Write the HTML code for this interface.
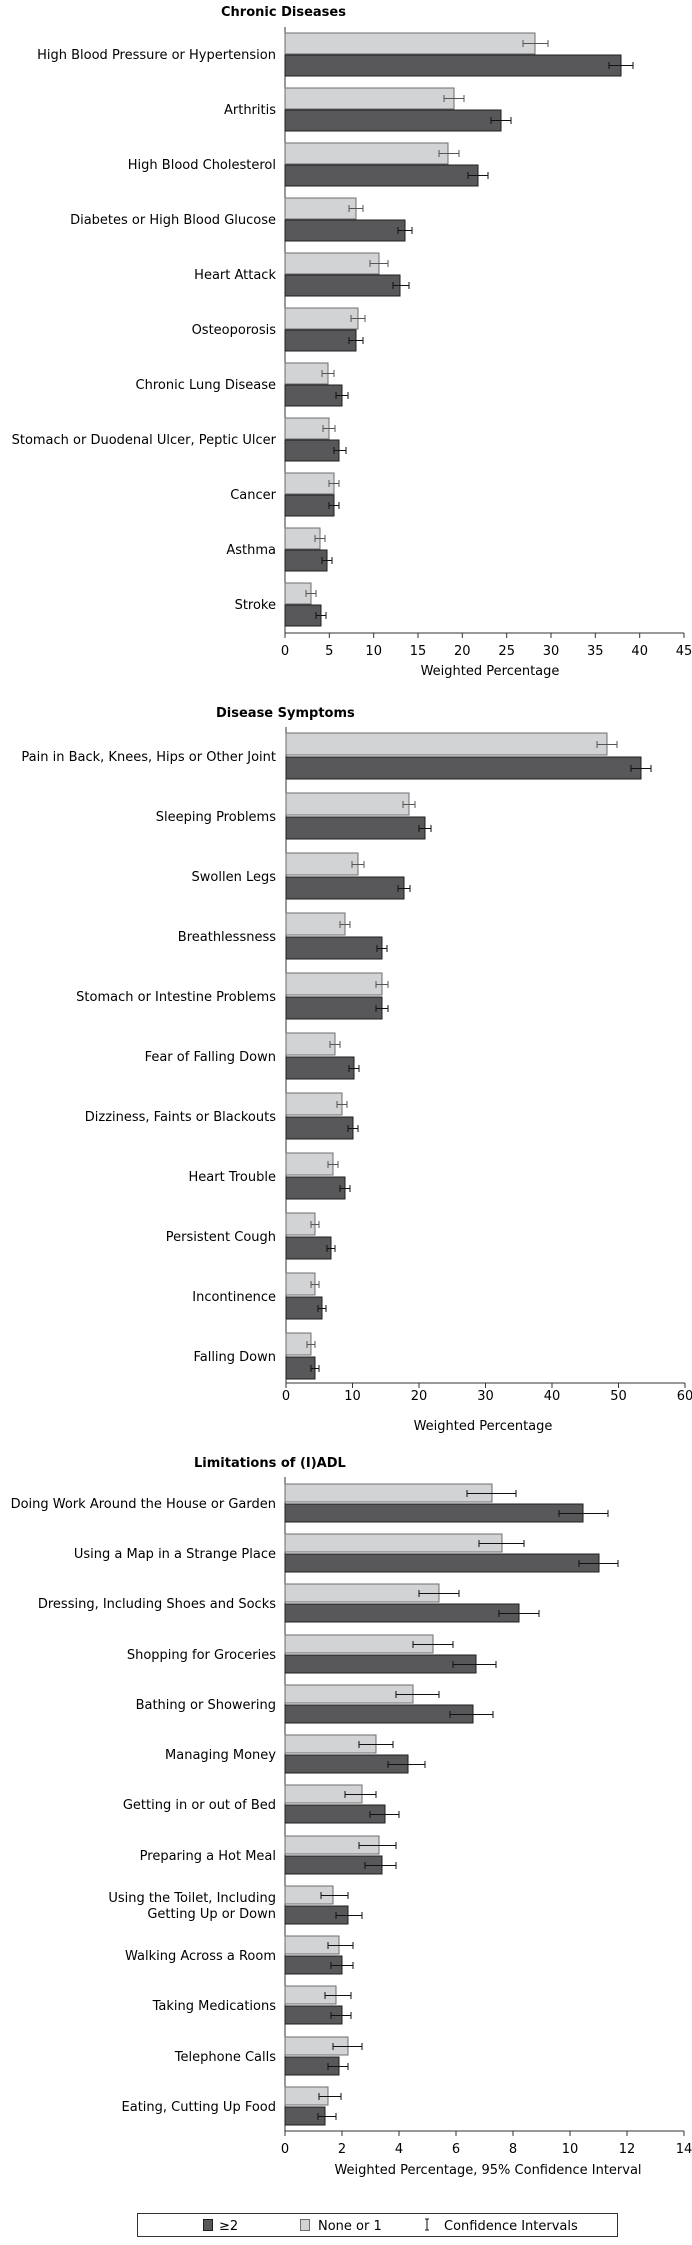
<!DOCTYPE html>
<html><head><meta charset="utf-8"><style>
body{margin:0;background:#fff}
svg{display:block;font-family:"DejaVu Sans","Liberation Sans",sans-serif;font-size:13px}
.l{fill:#d2d3d5;stroke:#6e6e70;stroke-width:1}
.d{fill:#58585a;stroke:#1e1e1e;stroke-width:1}
.lab{text-anchor:end}
.t{font-weight:bold}
.ax{stroke:#333;stroke-width:1;fill:none}
.ci{stroke:#555;stroke-width:1;fill:none}
.cd{stroke:#111;stroke-width:1;fill:none}
.tk{text-anchor:middle}
</style></head><body>
<svg width="692" height="2245" viewBox="0 0 692 2245">
<!-- Chart 1 -->
<text class="t" x="221" y="16">Chronic Diseases</text>
<path class="ax" d="M285 27V633H684M285 633v5M329.3 633v5M373.7 633v5M418 633v5M462.3 633v5M506.7 633v5M551 633v5M595.3 633v5M639.7 633v5M684 633v5"/>
<g class="tk"><text x="285" y="655">0</text><text x="329.3" y="655">5</text><text x="373.7" y="655">10</text><text x="418" y="655">15</text><text x="462.3" y="655">20</text><text x="506.7" y="655">25</text><text x="551" y="655">30</text><text x="595.3" y="655">35</text><text x="639.7" y="655">40</text><text x="684" y="655">45</text><text x="490" y="675">Weighted Percentage</text></g>
<g class="lab">
<text x="276" y="59">High Blood Pressure or Hypertension</text>
<text x="276" y="114">Arthritis</text>
<text x="276" y="169">High Blood Cholesterol</text>
<text x="276" y="224">Diabetes or High Blood Glucose</text>
<text x="276" y="279">Heart Attack</text>
<text x="276" y="334">Osteoporosis</text>
<text x="276" y="389">Chronic Lung Disease</text>
<text x="276" y="444">Stomach or Duodenal Ulcer, Peptic Ulcer</text>
<text x="276" y="499">Cancer</text>
<text x="276" y="554">Asthma</text>
<text x="276" y="609">Stroke</text>
</g>
<g>
<rect class="l" x="285" y="33" width="250" height="21"/><rect class="d" x="285" y="55" width="336" height="21"/>
<rect class="l" x="285" y="88" width="169" height="21"/><rect class="d" x="285" y="110" width="216" height="21"/>
<rect class="l" x="285" y="143" width="163" height="21"/><rect class="d" x="285" y="165" width="193" height="21"/>
<rect class="l" x="285" y="198" width="71" height="21"/><rect class="d" x="285" y="220" width="120" height="21"/>
<rect class="l" x="285" y="253" width="94" height="21"/><rect class="d" x="285" y="275" width="115" height="21"/>
<rect class="l" x="285" y="308" width="73" height="21"/><rect class="d" x="285" y="330" width="71" height="21"/>
<rect class="l" x="285" y="363" width="43" height="21"/><rect class="d" x="285" y="385" width="57" height="21"/>
<rect class="l" x="285" y="418" width="44" height="21"/><rect class="d" x="285" y="440" width="54" height="21"/>
<rect class="l" x="285" y="473" width="49" height="21"/><rect class="d" x="285" y="495" width="49" height="21"/>
<rect class="l" x="285" y="528" width="35" height="21"/><rect class="d" x="285" y="550" width="42" height="21"/>
<rect class="l" x="285" y="583" width="26" height="21"/><rect class="d" x="285" y="605" width="36" height="21"/>
</g>
<path class="ci" d="M523 43.5h25M523 40v7M548 40v7 M444 98.5h20M444 95v7M464 95v7 M439 153.5h20M439 150v7M459 150v7 M349 208.5h14M349 205v7M363 205v7 M370 263.5h18M370 260v7M388 260v7 M351 318.5h14M351 315v7M365 315v7 M322 373.5h12M322 370v7M334 370v7 M323 428.5h12M323 425v7M335 425v7 M329 483.5h10M329 480v7M339 480v7 M315 538.5h10M315 535v7M325 535v7 M306 593.5h10M306 590v7M316 590v7"/>
<path class="cd" d="M609 65.5h24M609 62v7M633 62v7 M491 120.5h20M491 117v7M511 117v7 M468 175.5h20M468 172v7M488 172v7 M398 230.5h14M398 227v7M412 227v7 M393 285.5h16M393 282v7M409 282v7 M349 340.5h14M349 337v7M363 337v7 M336 395.5h12M336 392v7M348 392v7 M334 450.5h12M334 447v7M346 447v7 M329 505.5h10M329 502v7M339 502v7 M322 560.5h10M322 557v7M332 557v7 M316 615.5h10M316 612v7M326 612v7"/>

<!-- Chart 2 -->
<text class="t" x="216" y="717">Disease Symptoms</text>
<path class="ax" d="M286 727V1383H685M286 1383v5M352.5 1383v5M419 1383v5M485.5 1383v5M552 1383v5M618.5 1383v5M685 1383v5"/>
<g class="tk"><text x="286" y="1400">0</text><text x="352.5" y="1400">10</text><text x="419" y="1400">20</text><text x="485.5" y="1400">30</text><text x="552" y="1400">40</text><text x="618.5" y="1400">50</text><text x="685" y="1400">60</text><text x="483" y="1430">Weighted Percentage</text></g>
<g class="lab">
<text x="276" y="761">Pain in Back, Knees, Hips or Other Joint</text>
<text x="276" y="821">Sleeping Problems</text>
<text x="276" y="881">Swollen Legs</text>
<text x="276" y="941">Breathlessness</text>
<text x="276" y="1001">Stomach or Intestine Problems</text>
<text x="276" y="1061">Fear of Falling Down</text>
<text x="276" y="1121">Dizziness, Faints or Blackouts</text>
<text x="276" y="1181">Heart Trouble</text>
<text x="276" y="1241">Persistent Cough</text>
<text x="276" y="1301">Incontinence</text>
<text x="276" y="1361">Falling Down</text>
</g>
<g>
<rect class="l" x="286" y="733" width="321" height="22"/><rect class="d" x="286" y="757" width="355" height="22"/>
<rect class="l" x="286" y="793" width="123" height="22"/><rect class="d" x="286" y="817" width="139" height="22"/>
<rect class="l" x="286" y="853" width="72" height="22"/><rect class="d" x="286" y="877" width="118" height="22"/>
<rect class="l" x="286" y="913" width="59" height="22"/><rect class="d" x="286" y="937" width="96" height="22"/>
<rect class="l" x="286" y="973" width="96" height="22"/><rect class="d" x="286" y="997" width="96" height="22"/>
<rect class="l" x="286" y="1033" width="49" height="22"/><rect class="d" x="286" y="1057" width="68" height="22"/>
<rect class="l" x="286" y="1093" width="56" height="22"/><rect class="d" x="286" y="1117" width="67" height="22"/>
<rect class="l" x="286" y="1153" width="47" height="22"/><rect class="d" x="286" y="1177" width="59" height="22"/>
<rect class="l" x="286" y="1213" width="29" height="22"/><rect class="d" x="286" y="1237" width="45" height="22"/>
<rect class="l" x="286" y="1273" width="29" height="22"/><rect class="d" x="286" y="1297" width="36" height="22"/>
<rect class="l" x="286" y="1333" width="25" height="22"/><rect class="d" x="286" y="1357" width="29" height="22"/>
</g>
<path class="ci" d="M597 744.5h20M597 741v7M617 741v7 M403 804.5h12M403 801v7M415 801v7 M352 864.5h12M352 861v7M364 861v7 M340 924.5h10M340 921v7M350 921v7 M376 984.5h12M376 981v7M388 981v7 M330 1044.5h10M330 1041v7M340 1041v7 M337 1104.5h10M337 1101v7M347 1101v7 M328 1164.5h10M328 1161v7M338 1161v7 M311 1224.5h8M311 1221v7M319 1221v7 M311 1284.5h8M311 1281v7M319 1281v7 M307 1344.5h8M307 1341v7M315 1341v7"/>
<path class="cd" d="M631 768.5h20M631 765v7M651 765v7 M419 828.5h12M419 825v7M431 825v7 M398 888.5h12M398 885v7M410 885v7 M377 948.5h10M377 945v7M387 945v7 M376 1008.5h12M376 1005v7M388 1005v7 M349 1068.5h10M349 1065v7M359 1065v7 M348 1128.5h10M348 1125v7M358 1125v7 M340 1188.5h10M340 1185v7M350 1185v7 M327 1248.5h8M327 1245v7M335 1245v7 M318 1308.5h8M318 1305v7M326 1305v7 M311 1368.5h8M311 1365v7M319 1365v7"/>

<!-- Chart 3 -->
<text class="t" x="194" y="1467">Limitations of (I)ADL</text>
<path class="ax" d="M285 1477V2131H684M285 2131v5M342 2131v5M399 2131v5M456 2131v5M513 2131v5M570 2131v5M627 2131v5M684 2131v5"/>
<g class="tk"><text x="285" y="2153">0</text><text x="342" y="2153">2</text><text x="399" y="2153">4</text><text x="456" y="2153">6</text><text x="513" y="2153">8</text><text x="570" y="2153">10</text><text x="627" y="2153">12</text><text x="684" y="2153">14</text><text x="488" y="2174">Weighted Percentage, 95% Confidence Interval</text></g>
<g class="lab">
<text x="276" y="1508">Doing Work Around the House or Garden</text>
<text x="276" y="1558">Using a Map in a Strange Place</text>
<text x="276" y="1608">Dressing, Including Shoes and Socks</text>
<text x="276" y="1659">Shopping for Groceries</text>
<text x="276" y="1709">Bathing or Showering</text>
<text x="276" y="1759">Managing Money</text>
<text x="276" y="1809">Getting in or out of Bed</text>
<text x="276" y="1860">Preparing a Hot Meal</text>
<text x="276" y="1902">Using the Toilet, Including</text>
<text x="276" y="1918">Getting Up or Down</text>
<text x="276" y="1960">Walking Across a Room</text>
<text x="276" y="2010">Taking Medications</text>
<text x="276" y="2061">Telephone Calls</text>
<text x="276" y="2111">Eating, Cutting Up Food</text>
</g>
<g>
<rect class="l" x="285" y="1484" width="207" height="18"/><rect class="d" x="285" y="1504" width="298" height="18"/>
<rect class="l" x="285" y="1534" width="217" height="18"/><rect class="d" x="285" y="1554" width="314" height="18"/>
<rect class="l" x="285" y="1584" width="154" height="18"/><rect class="d" x="285" y="1604" width="234" height="18"/>
<rect class="l" x="285" y="1635" width="148" height="18"/><rect class="d" x="285" y="1655" width="191" height="18"/>
<rect class="l" x="285" y="1685" width="128" height="18"/><rect class="d" x="285" y="1705" width="188" height="18"/>
<rect class="l" x="285" y="1735" width="91" height="18"/><rect class="d" x="285" y="1755" width="123" height="18"/>
<rect class="l" x="285" y="1785" width="77" height="18"/><rect class="d" x="285" y="1805" width="100" height="18"/>
<rect class="l" x="285" y="1836" width="94" height="18"/><rect class="d" x="285" y="1856" width="97" height="18"/>
<rect class="l" x="285" y="1886" width="48" height="18"/><rect class="d" x="285" y="1906" width="63" height="18"/>
<rect class="l" x="285" y="1936" width="54" height="18"/><rect class="d" x="285" y="1956" width="57" height="18"/>
<rect class="l" x="285" y="1986" width="51" height="18"/><rect class="d" x="285" y="2006" width="57" height="18"/>
<rect class="l" x="285" y="2037" width="63" height="18"/><rect class="d" x="285" y="2057" width="54" height="18"/>
<rect class="l" x="285" y="2087" width="43" height="18"/><rect class="d" x="285" y="2107" width="40" height="18"/>
</g>
<path class="cd" d="M467 1493.5h49M467 1490v7M516 1490v7 M479 1543.5h45M479 1540v7M524 1540v7 M419 1593.5h40M419 1590v7M459 1590v7 M413 1644.5h40M413 1641v7M453 1641v7 M396 1694.5h43M396 1691v7M439 1691v7 M359 1744.5h34M359 1741v7M393 1741v7 M345 1794.5h31M345 1791v7M376 1791v7 M359 1845.5h37M359 1842v7M396 1842v7 M321 1895.5h27M321 1892v7M348 1892v7 M328 1945.5h25M328 1942v7M353 1942v7 M325 1995.5h26M325 1992v7M351 1992v7 M333 2046.5h29M333 2043v7M362 2043v7 M319 2096.5h22M319 2093v7M341 2093v7
M559 1513.5h49M559 1510v7M608 1510v7 M579 1563.5h39M579 1560v7M618 1560v7 M499 1613.5h40M499 1610v7M539 1610v7 M453 1664.5h43M453 1661v7M496 1661v7 M450 1714.5h43M450 1711v7M493 1711v7 M388 1764.5h37M388 1761v7M425 1761v7 M370 1814.5h29M370 1811v7M399 1811v7 M365 1865.5h31M365 1862v7M396 1862v7 M336 1915.5h26M336 1912v7M362 1912v7 M331 1965.5h22M331 1962v7M353 1962v7 M331 2015.5h20M331 2012v7M351 2012v7 M328 2066.5h20M328 2063v7M348 2063v7 M318 2116.5h18M318 2113v7M336 2113v7"/>

<!-- Legend -->
<rect x="137.5" y="2213.5" width="480" height="23" fill="#fff" stroke="#333"/>
<rect class="d" x="203.5" y="2219.5" width="9" height="11"/>
<text x="219" y="2230">≥2</text>
<rect class="l" x="300.5" y="2219.5" width="9" height="11"/>
<text x="318" y="2230">None or 1</text>
<path class="cd" d="M427 2219v11M425 2219h4M425 2230h4"/>
<text x="444" y="2230">Confidence Intervals</text>
</svg>
</body></html>
